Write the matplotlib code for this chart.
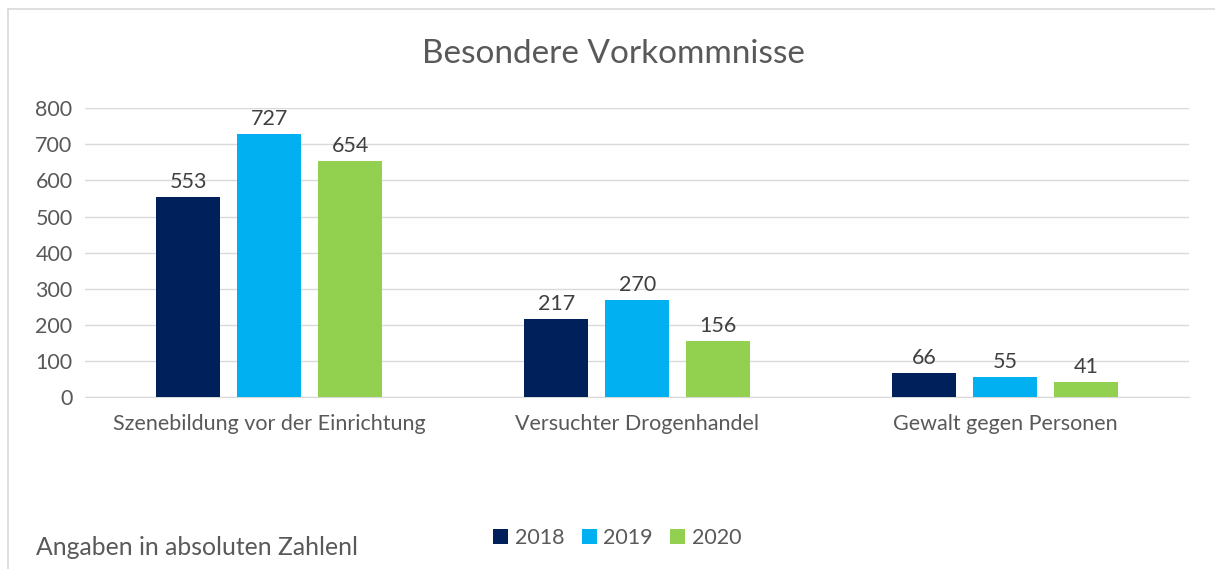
import matplotlib.pyplot as plt
import numpy as np
from matplotlib.lines import Line2D

categories = ["Szenebildung vor der Einrichtung", "Versuchter Drogenhandel", "Gewalt gegen Personen"]
years = ["2018", "2019", "2020"]
values_2018 = [553, 217, 66]
values_2019 = [727, 270, 55]
values_2020 = [654, 156, 41]
colors = ["#00205B", "#00B0F0", "#92D050"]

plt.rcParams['font.family'] = ['Lato', 'DejaVu Sans']
text_color = "#595959"

fig = plt.figure(figsize=(12.15, 5.69), dpi=100)
ax = fig.add_axes([0.07, 0.302, 0.909, 0.508])

x = np.arange(len(categories))
width = 0.174
step = 0.22
series = [values_2018, values_2019, values_2020]
for i, (vals, col, yr) in enumerate(zip(series, colors, years)):
    bars = ax.bar(x + (i - 1) * step, vals, width, color=col, label=yr, zorder=3)
    for b, v in zip(bars, vals):
        ax.text(b.get_x() + b.get_width() / 2, v + 14, str(v), ha='center', va='bottom',
                fontsize=15.5, color="#404040")

ax.set_xlim(-0.5, 2.5)
ax.set_ylim(0, 800)
ax.set_yticks(range(0, 801, 100))
ax.yaxis.grid(True, color="#D9D9D9", linewidth=1, zorder=0)
ax.tick_params(axis='both', length=0, labelsize=15.5, labelcolor=text_color)
ax.tick_params(axis='y', pad=9)
ax.tick_params(axis='x', pad=12)
ax.set_xticks(x)
ax.set_xticklabels(categories)
for s in ["top", "right", "left"]:
    ax.spines[s].set_visible(False)
ax.spines["bottom"].set_color("#D9D9D9")

fig.text(0.505, 0.905, "Besondere Vorkommnisse", ha='center', va='center', fontsize=24, color=text_color)
fig.text(0.03, 0.037, "Angaben in absoluten Zahlenl", ha='left', va='center', fontsize=17.8, color=text_color)

leg = fig.legend(loc='center', bbox_to_anchor=(0.508, 0.055), ncol=3, frameon=False,
                 fontsize=15.5, handlelength=0.7, handleheight=0.7, handletextpad=0.3, columnspacing=0.8)
for t in leg.get_texts():
    t.set_color(text_color)

fig.add_artist(Line2D([0.0066, 0.0066], [0.0, 0.984], color="#D9D9D9", linewidth=1.2, transform=fig.transFigure))
fig.add_artist(Line2D([0.0066, 1.0], [0.984, 0.984], color="#D9D9D9", linewidth=1.2, transform=fig.transFigure))

fig.savefig("out.png", dpi=100)
